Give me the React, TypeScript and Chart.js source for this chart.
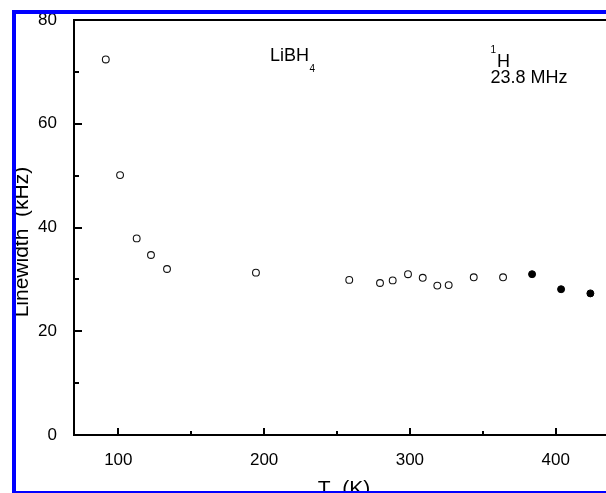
import React, { useEffect, useRef } from "react";
import { Chart, registerables } from "chart.js";

Chart.register(...registerables);

// Open circles (T in K, linewidth in kHz)
const OPEN_T = [91.4, 101.2, 112.6, 122.4, 133.4, 194.4, 258.4, 279.5, 288.2, 298.7, 308.8, 318.8, 326.6, 343.8, 363.9];
const OPEN_W = [72.4, 50.1, 37.9, 34.7, 32.0, 31.3, 29.9, 29.3, 29.8, 31.0, 30.3, 28.8, 28.9, 30.4, 30.4];
// Filled circles
const FILLED_T = [383.8, 403.7, 423.8];
const FILLED_W = [31.0, 28.1, 27.3];

const X_MAJOR = [100, 200, 300, 400];
const X_MINOR = [150, 250, 350];
const Y_MAJOR = [0, 20, 40, 60, 80];
const Y_MINOR = [10, 30, 50, 70];

const X_TITLE = "T  (K)";
const Y_TITLE = "Linewidth  (kHz)";
const SAMPLE_LABEL = "LiBH";
const SAMPLE_SUB = "4";
const NUCLEUS_SUP = "1";
const NUCLEUS = "H";
const FREQ_LABEL = "23.8 MHz";

// annotation anchors in data units (T, kHz)
const SAMPLE_AT = { x: 204.0, y: 72.15 };
const NUCLEUS_AT = { x: 355.3, y: 71.0 };
const FREQ_AT = { x: 355.3, y: 67.8 };

const FONT = "'Liberation Sans', Arial, Helvetica, sans-serif";

export default function App() {
  const ref = useRef<HTMLCanvasElement>(null);

  useEffect(() => {
    const canvas = ref.current;
    if (!canvas) return;

    const decor = {
      id: "decor",
      afterDraw(chart: any) {
        const ctx = chart.ctx as CanvasRenderingContext2D;
        const xs = chart.scales.x;
        const ys = chart.scales.y;
        const { left, top, bottom } = chart.chartArea;
        ctx.save();
        ctx.strokeStyle = "#000";
        ctx.lineWidth = 2;
        ctx.beginPath();
        // top frame line
        ctx.moveTo(left - 1, top);
        ctx.lineTo(chart.width, top);
        // inward ticks
        X_MAJOR.forEach((v) => {
          const px = Math.round(xs.getPixelForValue(v));
          ctx.moveTo(px, bottom);
          ctx.lineTo(px, bottom - 7);
        });
        X_MINOR.forEach((v) => {
          const px = Math.round(xs.getPixelForValue(v));
          ctx.moveTo(px, bottom);
          ctx.lineTo(px, bottom - 4);
        });
        Y_MAJOR.forEach((v) => {
          const py = Math.round(ys.getPixelForValue(v));
          ctx.moveTo(left, py);
          ctx.lineTo(left + 8, py);
        });
        Y_MINOR.forEach((v) => {
          const py = Math.round(ys.getPixelForValue(v));
          ctx.moveTo(left, py);
          ctx.lineTo(left + 5, py);
        });
        ctx.stroke();

        // annotations
        ctx.fillStyle = "#000";
        ctx.textBaseline = "alphabetic";
        ctx.textAlign = "left";
        ctx.font = `18px ${FONT}`;
        let ax = xs.getPixelForValue(SAMPLE_AT.x);
        let ay = ys.getPixelForValue(SAMPLE_AT.y);
        ctx.fillText(SAMPLE_LABEL, ax, ay);
        const w = ctx.measureText(SAMPLE_LABEL).width;
        ctx.font = `10px ${FONT}`;
        ctx.fillText(SAMPLE_SUB, ax + w + 0.5, ay + 11.3);

        ax = xs.getPixelForValue(NUCLEUS_AT.x);
        ay = ys.getPixelForValue(NUCLEUS_AT.y);
        ctx.font = `10px ${FONT}`;
        ctx.fillText(NUCLEUS_SUP, ax, ay - 13.2);
        const sw = ctx.measureText(NUCLEUS_SUP).width;
        ctx.font = `18px ${FONT}`;
        ctx.fillText(NUCLEUS, ax + sw + 0.8, ay);

        ctx.font = `18px ${FONT}`;
        ctx.fillText(FREQ_LABEL, xs.getPixelForValue(FREQ_AT.x), ys.getPixelForValue(FREQ_AT.y));

        // blue outer frame
        ctx.strokeStyle = "#0000ff";
        ctx.lineWidth = 4;
        ctx.strokeRect(14, 12, 800, 481);
        ctx.restore();
      },
    };

    const chart = new Chart(canvas, {
      type: "scatter",
      data: {
        datasets: [
          {
            label: "open",
            data: OPEN_T.map((t, i) => ({ x: t, y: OPEN_W[i] })),
            pointStyle: "circle",
            pointRadius: 3.4,
            pointBorderWidth: 1.1,
            pointBackgroundColor: "#fff",
            pointBorderColor: "#111",
            showLine: false,
          },
          {
            label: "filled",
            data: FILLED_T.map((t, i) => ({ x: t, y: FILLED_W[i] })),
            pointStyle: "circle",
            pointRadius: 3.5,
            pointBorderWidth: 1,
            pointBackgroundColor: "#000",
            pointBorderColor: "#000",
            showLine: false,
          },
        ],
      },
      options: {
        animation: false,
        responsive: false,
        devicePixelRatio: 1,
        layout: { padding: { left: 0, top: 20, right: 26, bottom: 0 } },
        plugins: {
          legend: { display: false },
          tooltip: { enabled: false },
        },
        scales: {
          x: {
            type: "linear",
            position: "bottom",
            min: 69.6,
            max: 440,
            afterBuildTicks: (s: any) => {
              s.ticks = X_MAJOR.map((value) => ({ value }));
            },
            afterFit: (s: any) => {
              s.height = 75;
            },
            grid: { display: false },
            border: { display: true, color: "#000", width: 2 },
            ticks: {
              color: "#000",
              padding: 7,
              maxRotation: 0,
              autoSkip: false,
              font: { family: FONT, size: 17 },
            },
            title: {
              display: true,
              text: X_TITLE,
              color: "#000",
              font: { family: FONT, size: 21 },
              padding: { top: 0, bottom: 8.6 },
            },
          },
          y: {
            type: "linear",
            position: "left",
            min: 0,
            max: 80,
            afterBuildTicks: (s: any) => {
              s.ticks = Y_MAJOR.map((value) => ({ value }));
            },
            afterFit: (s: any) => {
              s.width = 74;
            },
            grid: { display: false },
            border: { display: true, color: "#000", width: 2 },
            ticks: {
              color: "#000",
              padding: 9,
              font: { family: FONT, size: 17 },
            },
            title: {
              display: true,
              text: Y_TITLE + "     ",
              color: "#000",
              font: { family: FONT, size: 21 },
              padding: { top: 9.6, bottom: 0 },
            },
          },
        },
      },
      plugins: [decor],
    });

    return () => chart.destroy();
  }, []);

  return (
    <div
      style={{
        position: "fixed",
        left: 0,
        top: 0,
        width: 606,
        height: 493,
        overflow: "hidden",
        background: "#fff",
      }}
    >
      <canvas ref={ref} width={640} height={510} style={{ display: "block", width: 640, height: 510 }} />
    </div>
  );
}
